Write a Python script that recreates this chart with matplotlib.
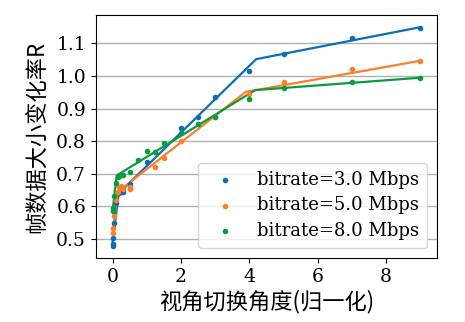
import numpy as np
import matplotlib.pyplot as plt

plt.rcParams['font.family'] = ['DejaVu Serif', 'Noto Sans CJK SC']

labels = ['bitrate=3.0 Mbps', 'bitrate=5.0 Mbps', 'bitrate=8.0 Mbps']
colors = ['#0a6fb2', '#fd7f2c', '#0c9a3e']

# measured points
x_3 = [0, 0, 0.02, 0.05, 0.1, 0.2, 0.3, 0.5, 1.0, 2.0, 2.5, 3.0, 4.0, 5.0, 7.0, 9.0]
y_3 = [0.479, 0.485, 0.502, 0.548, 0.61, 0.64, 0.645, 0.668, 0.737, 0.84, 0.875, 0.936, 1.015, 1.067, 1.116, 1.149]
x_5 = [0, 0, 0.05, 0.1, 0.15, 0.2, 0.25, 0.3, 0.5, 0.5, 1.25, 1.5, 2.0, 3.0, 4.0, 5.0, 7.0, 9.0]
y_5 = [0.52, 0.533, 0.572, 0.62, 0.645, 0.66, 0.662, 0.655, 0.66, 0.655, 0.722, 0.748, 0.80, 0.875, 0.945, 0.983, 1.021, 1.047]
x_8 = [0, 0, 0.05, 0.1, 0.15, 0.2, 0.25, 0.3, 0.5, 0.75, 1.0, 1.25, 1.5, 2.0, 2.5, 3.0, 4.0, 5.0, 7.0, 9.0]
y_8 = [0.585, 0.595, 0.632, 0.672, 0.69, 0.692, 0.695, 0.695, 0.706, 0.742, 0.771, 0.768, 0.795, 0.824, 0.852, 0.873, 0.929, 0.962, 0.983, 0.995]

# piecewise fit lines (knots)
fx_3 = [0, 0.18, 4.2, 9]
fy_3 = [0.49, 0.64, 1.052, 1.15]
fx_5 = [0, 0.15, 3.9, 4.2, 9]
fy_5 = [0.52, 0.645, 0.952, 0.957, 1.047]
fx_8 = [0, 0.12, 4.17, 9]
fy_8 = [0.585, 0.695, 0.957, 0.995]

fig = plt.figure(figsize=(4.65, 3.22), dpi=100)
ax = fig.add_axes([0.206, 0.199, 0.734, 0.754])

pts = [(x_3, y_3), (x_5, y_5), (x_8, y_8)]
fits = [(fx_3, fy_3), (fx_5, fy_5), (fx_8, fy_8)]
for (px, py), (fx, fy), c, lab in zip(pts, fits, colors, labels):
    ax.scatter(px, py, s=9, color=c, label=lab, zorder=3)
    ax.plot(fx, fy, color=c, lw=1.6, zorder=2)

ax.set_xlim(-0.49, 9.49)
ax.set_ylim(0.442, 1.187)
ax.set_xticks([0, 2, 4, 6, 8])
ax.set_yticks([0.5, 0.6, 0.7, 0.8, 0.9, 1.0, 1.1])
ax.yaxis.grid(True, color='#b0b0b0', lw=1)
ax.set_axisbelow(True)
ax.tick_params(labelsize=13.5)

ax.set_xlabel('视角切换角度(归一化)', fontsize=16, family=['Noto Sans CJK SC'], labelpad=3)
ax.set_ylabel('帧数据大小变化率R', fontsize=16, family=['Noto Sans CJK SC'], labelpad=5)

ax.legend(loc='lower right', fontsize=13, handlelength=2, handletextpad=0.8,
          borderpad=0.45, labelspacing=0.42, scatterpoints=1, borderaxespad=0.55)

fig.savefig('out.png', dpi=100)
